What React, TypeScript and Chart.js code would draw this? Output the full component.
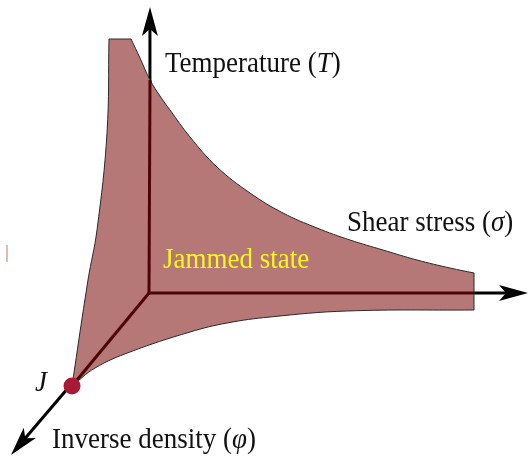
import React, { useEffect, useRef } from "react";
import { Chart, registerables } from "chart.js";

Chart.register(...registerables);

// Jammed-state region outline (x, y in picture units; y grows downward)
const upperEdge: [number, number][] = [
  [131, 39], [140, 58], [150, 80], [160, 96], [170, 110], [190, 137],
  [217, 167], [250, 193], [283, 213], [317, 228], [350, 240], [383, 250],
  [417, 260], [450, 268],
];
const lowerEdge: [number, number][] = [
  [347, 311], [270, 317], [227, 323], [190, 332], [130, 352], [95, 368],
];
const leftEdge: [number, number][] = [[88, 280], [97, 230], [107, 133]];
// sharp corners of the region
const cornerTopLeft: [number, number] = [109, 39];
const cornerTopRight: [number, number] = [131, 39];
const cornerRightTop: [number, number] = [474, 273];
const cornerRightBottom: [number, number] = [474, 310];

// Axes
const origin: [number, number] = [149, 293];
const tempTip: [number, number] = [150, 7];
const shearTip: [number, number] = [528, 293];
const densityTip: [number, number] = [11, 455];
// where axes leave the region
const tempExit: [number, number] = [150, 80];
const shearExit: [number, number] = [474, 293];
const pointJ: [number, number] = [72, 386];

const artifact: [number, number][] = [[7, 245], [7, 262]];

type Seg = { t: string; italic?: boolean };
const labels: { parts: Seg[]; x: number; y: number; color: string }[] = [
  { parts: [{ t: "Temperature (" }, { t: "T", italic: true }, { t: ")" }], x: 165, y: 72, color: "#111" },
  { parts: [{ t: "Shear stress (" }, { t: "σ", italic: true }, { t: ")" }], x: 347, y: 231, color: "#111" },
  { parts: [{ t: "Jammed state" }], x: 163, y: 268, color: "#f7f71e" },
  { parts: [{ t: "Inverse density (" }, { t: "φ", italic: true }, { t: ")" }], x: 52, y: 448, color: "#111" },
  { parts: [{ t: "J", italic: true }], x: 35, y: 391, color: "#111" },
];

const toPts = (a: [number, number][]) => a.map(([x, y]) => ({ x, y }));

const FONT = "'Liberation Serif', 'Times New Roman', serif";

export default function App() {
  const ref = useRef<HTMLCanvasElement>(null);
  useEffect(() => {
    if (!ref.current) return;
    // corners are repeated so the smoothing keeps them sharp
    const polygon: [number, number][] = [
      cornerTopLeft, cornerTopLeft, cornerTopRight, cornerTopRight,
      ...upperEdge.slice(1),
      cornerRightTop, cornerRightTop, cornerRightBottom, cornerRightBottom,
      ...lowerEdge,
      pointJ, pointJ,
      ...leftEdge,
      cornerTopLeft, cornerTopLeft,
    ];

    const shorten = (from: [number, number], to: [number, number], d: number) => {
      const dx = to[0] - from[0], dy = to[1] - from[1];
      const len = Math.hypot(dx, dy);
      return [to[0] - (dx / len) * d, to[1] - (dy / len) * d] as [number, number];
    };

    const arrowPlugin = {
      id: "arrowsAndLabels",
      afterDatasetsDraw(chart: any) {
        const ctx = chart.ctx as CanvasRenderingContext2D;
        const xs = chart.scales.x, ys = chart.scales.y;
        const px = (p: [number, number]) => [xs.getPixelForValue(p[0]), ys.getPixelForValue(p[1])];
        const head = (from: [number, number], tip: [number, number]) => {
          const [fx, fy] = px(from);
          const [tx, ty] = px(tip);
          const a = Math.atan2(ty - fy, tx - fx);
          const L = 29, W = 8, N = 22;
          const cos = Math.cos(a), sin = Math.sin(a);
          const bx = tx - cos * L, by = ty - sin * L;
          ctx.save();
          ctx.fillStyle = "#000";
          ctx.beginPath();
          ctx.moveTo(tx, ty);
          ctx.lineTo(bx - sin * W, by + cos * W);
          ctx.lineTo(tx - cos * N, ty - sin * N);
          ctx.lineTo(bx + sin * W, by - cos * W);
          ctx.closePath();
          ctx.fill();
          ctx.restore();
        };
        head(origin, tempTip);
        head(origin, shearTip);
        head(origin, densityTip);

        // J point
        const [jx, jy] = px(pointJ);
        ctx.save();
        ctx.fillStyle = "#a81935";
        ctx.beginPath();
        ctx.arc(jx, jy, 8.5, 0, Math.PI * 2);
        ctx.fill();
        ctx.restore();

        // labels
        for (const lb of labels) {
          const [x0, y0] = px([lb.x, lb.y]);
          ctx.save();
          ctx.translate(x0, y0);
          ctx.scale(1, 1.1);
          ctx.textBaseline = "alphabetic";
          ctx.fillStyle = lb.color;
          let x = 0;
          for (const s of lb.parts) {
            ctx.font = `${s.italic ? "italic " : ""}27px ${FONT}`;
            ctx.fillText(s.t, x, 0);
            x += ctx.measureText(s.t).width;
          }
          ctx.restore();
        }
      },
    };

    const axisLine = (label: string, pts: [number, number][], color: string, order: number) => ({
      label,
      data: toPts(pts),
      showLine: true,
      borderColor: color,
      borderWidth: 3,
      pointRadius: 0,
      tension: 0,
      order,
    });

    const chart = new Chart(ref.current, {
      type: "scatter",
      data: {
        datasets: [
          axisLine("Temperature axis", [origin, shorten(origin, tempTip, 18)], "#000", 5),
          axisLine("Shear axis", [origin, shorten(origin, shearTip, 18)], "#000", 5),
          axisLine("Density axis", [origin, shorten(origin, densityTip, 18)], "#000", 5),
          {
            label: "Jammed state",
            data: toPts(polygon),
            showLine: true,
            fill: "shape",
            backgroundColor: "rgb(182,119,119)",
            borderColor: "#2a2a2a",
            borderWidth: 1,
            pointRadius: 0,
            tension: 0.4,
            order: 4,
          },
          axisLine("T inside", [origin, tempExit], "#4e0404", 3),
          axisLine("sigma inside", [origin, shearExit], "#4e0404", 3),
          axisLine("phi inside", [origin, pointJ], "#4e0404", 3),
          {
            label: "mark",
            data: toPts(artifact),
            showLine: true, borderColor: "#d9a3a3", borderWidth: 1.5, pointRadius: 0, order: 6,
          },
        ],
      },
      options: {
        responsive: false,
        animation: false,
        layout: { padding: 0 },
        plugins: { legend: { display: false }, tooltip: { enabled: false } },
        scales: {
          x: { type: "linear", min: 0, max: 530, display: false },
          y: { type: "linear", min: 0, max: 461, reverse: true, display: false },
        },
      },
      plugins: [arrowPlugin],
    });
    return () => chart.destroy();
  }, []);

  return (
    <div style={{ position: "fixed", left: 0, top: 0, width: 530, height: 461, background: "#fff" }}>
      <canvas ref={ref} width={530} height={461} />
    </div>
  );
}
